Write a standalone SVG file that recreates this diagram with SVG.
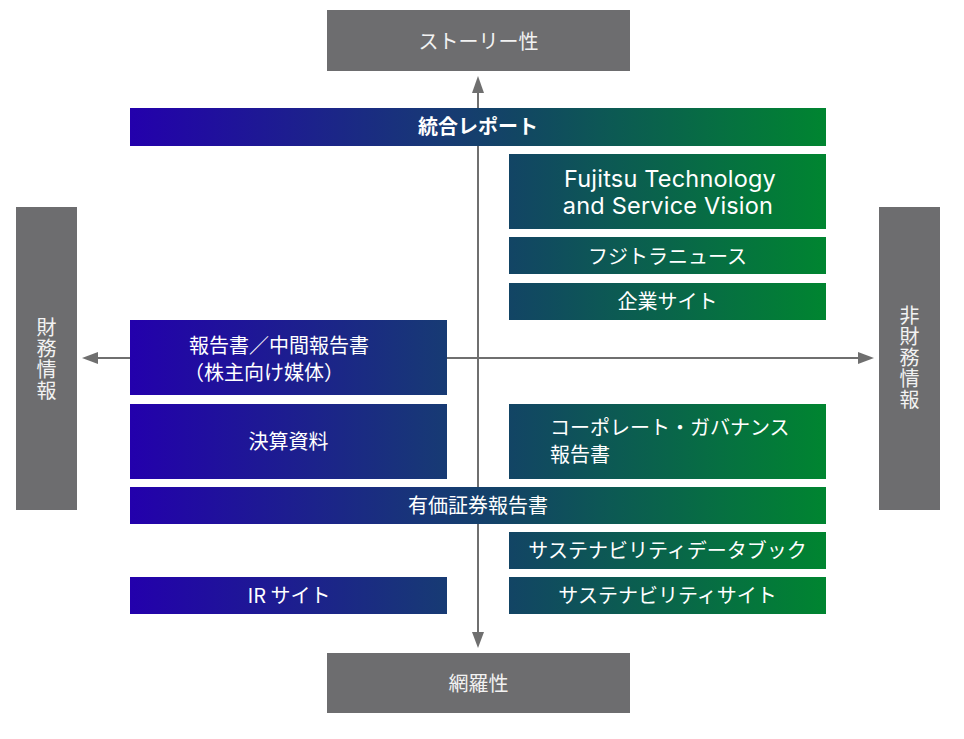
<svg xmlns="http://www.w3.org/2000/svg" width="964" height="739" viewBox="0 0 964 739">
<defs>
<linearGradient id="g" gradientUnits="userSpaceOnUse" x1="130" y1="0" x2="826" y2="0">
<stop offset="0" stop-color="#2300AC"/>
<stop offset="0.45" stop-color="#173A74"/>
<stop offset="0.55" stop-color="#124564"/>
<stop offset="1" stop-color="#008530"/>
</linearGradient>
<style>
.gb{fill:#6d6d6f}
.nb{fill:url(#g)}
.ax{stroke:#6f6f6f;stroke-width:2;fill:none}
.ah{fill:#6f6f6f}
text{font-family:"Noto Sans CJK JP","Noto Sans",sans-serif;fill:#ffffff;font-size:20px}
.gt{fill:#f2f2f2}
.c{text-anchor:middle}
.v{writing-mode:vertical-rl;text-anchor:middle;letter-spacing:1px}
.lat{font-family:Inter,"Noto Sans",sans-serif;font-size:23.5px;letter-spacing:0.2px}
</style>
</defs>
<g id="connectors">
<line class="ax" x1="478" y1="90" x2="478" y2="634"/>
<polygon class="ah" points="478,76 472,93 484,93"/>
<polygon class="ah" points="478,648 472,632 484,632"/>
<line class="ax" x1="95" y1="358" x2="862" y2="358"/>
<polygon class="ah" points="82,358 98,352 98,364"/>
<polygon class="ah" points="874,358 858,352 858,364"/>
</g>
<g id="story">
<rect class="gb" x="327" y="10" width="303" height="61"/>
<text class="gt c" x="478.5" y="49">ストーリー性</text>
</g>
<g id="coverage">
<rect class="gb" x="327" y="653" width="303" height="60"/>
<text class="gt c" x="478.5" y="691">網羅性</text>
</g>
<g id="financial">
<rect class="gb" x="16" y="207" width="61" height="303"/>
<text class="gt v" x="46.5" y="359">財務情報</text>
</g>
<g id="nonfinancial">
<rect class="gb" x="879" y="207" width="61" height="303"/>
<text class="gt v" x="909.5" y="358">非財務情報</text>
</g>
<g id="integrated-report">
<rect class="nb" x="130" y="108" width="696" height="38"/>
<text class="c" x="478" y="134" font-weight="bold" font-size="19">統合レポート</text>
</g>
<g id="fujitsu-vision">
<rect class="nb" x="509" y="154" width="317" height="75"/>
<text class="c lat" x="670" y="187">Fujitsu Technology</text>
<text class="c lat" x="668" y="214">and Service Vision</text>
</g>
<g id="fujitora-news">
<rect class="nb" x="509" y="237" width="317" height="37"/>
<text class="c" x="667.5" y="264">フジトラニュース</text>
</g>
<g id="corporate-site">
<rect class="nb" x="509" y="283" width="317" height="37"/>
<text class="c" x="667.5" y="309">企業サイト</text>
</g>
<g id="shareholder-report">
<rect class="nb" x="130" y="320" width="317" height="75"/>
<text x="189" y="353" font-size="21">報告書／中間報告書</text>
<text x="184" y="380" font-size="21">（株主向け媒体）</text>
</g>
<g id="financial-results">
<rect class="nb" x="130" y="404" width="317" height="75"/>
<text class="c" x="288.5" y="449" font-size="21">決算資料</text>
</g>
<g id="governance-report">
<rect class="nb" x="509" y="404" width="317" height="75"/>
<text x="550" y="435">コーポレート・ガバナンス</text>
<text x="550" y="462">報告書</text>
</g>
<g id="securities-report">
<rect class="nb" x="130" y="487" width="696" height="37"/>
<text class="c" x="478" y="513">有価証券報告書</text>
</g>
<g id="sustainability-databook">
<rect class="nb" x="509" y="532" width="317" height="37"/>
<text class="c" x="667.5" y="558" font-size="19">サステナビリティデータブック</text>
</g>
<g id="ir-site">
<rect class="nb" x="130" y="577" width="317" height="37"/>
<text class="c" x="289" y="603">IR サイト</text>
</g>
<g id="sustainability-site">
<rect class="nb" x="509" y="577" width="317" height="37"/>
<text class="c" x="667.5" y="603" font-size="19">サステナビリティサイト</text>
</g>
</svg>
